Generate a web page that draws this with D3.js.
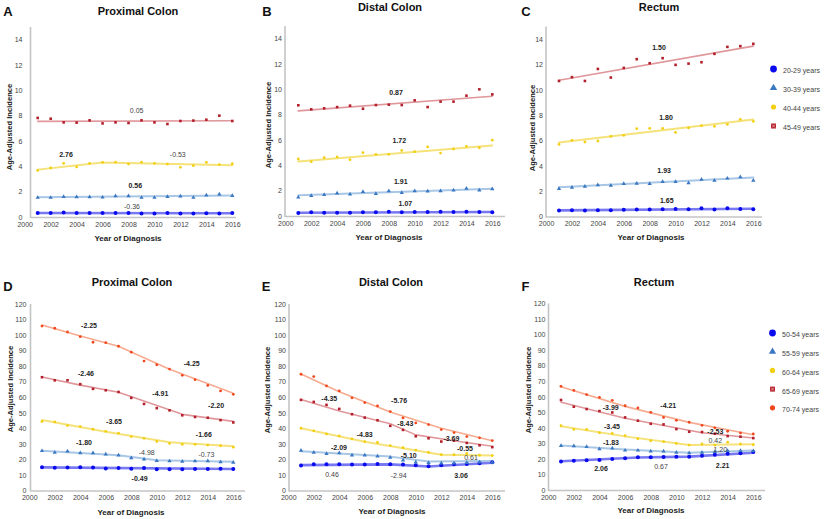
<!DOCTYPE html>
<html><head><meta charset="utf-8">
<script src="https://cdn.jsdelivr.net/npm/d3@7"></script>
<style>body{margin:0;background:#fff}svg{display:block;font-family:"Liberation Sans",Arial,sans-serif}</style>
</head><body><svg id="chart" width="825" height="519"></svg>
<script>
// ---------------- DATA ----------------
const years = [2001,2002,2003,2004,2005,2006,2007,2008,2009,2010,2011,2012,2013,2014,2015,2016];
const xTicks = [2000,2002,2004,2006,2008,2010,2012,2014,2016];
const yTicksTop = [0,2,4,6,8,10,12,14];
const yTicksBottom = [0,10,20,30,40,50,60,70,80,90,100,110,120];
const sitesTitles = ["Proximal Colon","Distal Colon","Rectum"];
const panelLetters = ["A","B","C","D","E","F"];
const groupsYoung = ["20-29 years","30-39 years","40-44 years","45-49 years"];
const groupsOld = ["50-54 years","55-59 years","60-64 years","65-69 years","70-74 years"];

// A: Proximal colon, ages 20-49
const A_2029 = [0.31,0.31,0.35,0.31,0.31,0.31,0.31,0.31,0.28,0.28,0.31,0.28,0.28,0.30,0.28,0.32];
const A_3039 = [1.53,1.53,1.60,1.58,1.58,1.55,1.66,1.66,1.53,1.53,1.60,1.63,1.53,1.71,1.79,1.68];
const A_4044 = [3.68,3.87,4.24,3.95,4.24,4.32,4.34,4.18,4.34,4.24,4.18,3.92,4.05,4.32,4.13,4.21];
const A_4549 = [7.82,7.76,7.47,7.45,7.63,7.39,7.47,7.42,7.63,7.47,7.34,7.58,7.61,7.68,8.00,7.58];
// B: Distal colon
const B_2029 = [0.24,0.29,0.26,0.26,0.26,0.29,0.29,0.34,0.29,0.31,0.31,0.34,0.31,0.34,0.31,0.29];
const B_3039 = [1.47,1.60,1.68,1.79,1.71,1.92,1.76,1.97,1.84,1.97,1.95,1.97,2.03,2.18,2.03,2.13];
const B_4044 = [4.50,4.29,4.60,4.66,4.45,5.00,4.87,4.87,5.18,5.08,5.45,4.97,5.29,5.50,5.39,5.99];
const B_4549 = [8.74,8.42,8.50,8.60,8.71,8.47,8.76,8.79,8.76,9.13,8.60,9.03,9.03,9.50,10.00,9.60];
// C: Rectum
const C_2029 = [0.47,0.50,0.47,0.50,0.50,0.53,0.55,0.55,0.58,0.60,0.58,0.66,0.55,0.66,0.60,0.58];
const C_3039 = [2.19,2.29,2.37,2.48,2.45,2.58,2.61,2.58,2.74,2.74,2.64,2.93,2.85,3.01,3.11,2.85];
const C_4044 = [5.69,6.01,5.88,5.96,6.33,6.41,6.93,6.96,6.96,6.64,6.99,7.17,7.12,7.28,7.67,7.51];
const C_4549 = [10.70,11.00,10.70,11.65,10.97,11.73,12.42,12.10,12.50,11.97,12.07,12.18,12.84,13.39,13.45,13.63];
// D: Proximal colon, ages 50-74
const D_5054 = [14.9,14.6,14.8,15.0,14.8,14.1,14.5,14.0,14.5,13.6,13.6,13.6,13.8,13.8,14.0,13.8];
const D_5559 = [25.5,24.4,25.3,24.1,24.1,23.3,22.7,20.9,20.1,19.2,18.9,18.7,18.9,19.0,18.3,18.0];
const D_6064 = [44.4,44.1,41.8,41.1,39.4,38.1,36.9,34.7,33.6,31.6,30.3,29.7,29.7,29.2,28.8,27.9];
const D_6569 = [72.9,70.9,70.9,68.4,65.4,64.5,63.4,59.6,55.7,53.0,51.6,48.4,47.3,46.8,45.3,43.8];
const D_7074 = [105.8,104.4,102.0,99.0,95.4,95.1,92.8,89.0,83.3,80.9,78.1,74.1,71.3,67.6,64.1,61.9];
// E: Distal colon
const E_5054 = [16.1,16.9,16.9,16.9,16.7,16.7,17.1,16.9,16.7,16.3,15.6,16.3,16.9,17.1,17.6,18.2];
const E_5559 = [25.7,24.4,23.6,24.2,22.7,22.7,22.1,21.2,19.5,18.2,17.8,17.5,17.6,17.8,18.2,18.0];
const E_6064 = [40.1,38.4,36.4,35.1,33.2,31.5,30.9,28.9,27.5,26.0,24.5,23.0,23.0,23.8,22.7,22.5];
const E_6569 = [58.3,57.0,55.1,52.5,49.1,46.9,45.2,41.6,39.0,34.9,33.6,31.5,32.1,30.6,29.1,27.9];
const E_7074 = [74.8,73.3,67.3,64.1,59.6,56.6,54.4,50.8,46.7,43.5,42.4,39.2,37.3,34.7,33.9,32.1];
// F: Rectum
const F_5054 = [18.4,18.8,19.1,19.3,19.9,20.4,21.0,21.0,21.2,21.4,21.4,22.1,22.7,23.4,23.6,24.4];
const F_5559 = [28.5,28.3,27.9,26.4,26.8,25.5,25.5,24.9,24.9,24.2,23.8,24.2,24.6,25.3,25.3,25.1];
const F_6064 = [41.4,39.0,39.0,36.9,36.4,34.9,33.0,31.7,31.1,30.0,28.9,29.6,28.9,30.8,29.6,29.1];
const F_6569 = [57.9,53.6,52.1,50.8,49.9,46.7,44.6,42.6,42.2,39.2,37.5,37.3,36.2,34.7,34.3,33.4];
const F_7074 = [66.7,64.1,61.4,59.6,57.7,54.2,52.8,50.0,46.7,44.8,43.6,41.6,40.0,37.8,36.7,36.1];

// Joinpoint fitted trends: [year, fitted value]
const A_fit = [
  [[2001,0.32],[2016,0.30]],
  [[2001,1.55],[2016,1.70]],
  [[2001,3.74],[2006,4.30],[2016,4.08]],
  [[2001,7.55],[2016,7.60]]];
const B_fit = [
  [[2001,0.26],[2016,0.31]],
  [[2001,1.63],[2016,2.16]],
  [[2001,4.30],[2016,5.57]],
  [[2001,8.30],[2016,9.46]]];
const C_fit = [
  [[2001,0.48],[2016,0.61]],
  [[2001,2.30],[2016,3.07]],
  [[2001,5.85],[2016,7.65]],
  [[2001,10.75],[2016,13.45]]];
const D_fit = [
  [[2001,14.9],[2016,13.8]],
  [[2001,25.5],[2007,22.7],[2010,19.4],[2016,18.5]],
  [[2001,45.3],[2006,37.8],[2011,31.0],[2016,28.4]],
  [[2001,73.0],[2004,67.8],[2007,63.2],[2012,49.0],[2016,44.5]],
  [[2001,106.5],[2004,99.4],[2007,92.8],[2011,78.0],[2016,62.5]]];
const E_fit = [
  [[2001,16.3],[2008,16.8],[2011,15.4],[2016,17.9]],
  [[2001,25.3],[2008,21.8],[2011,18.6],[2016,19.0]],
  [[2001,40.0],[2006,31.4],[2012,23.0],[2016,22.5]],
  [[2001,58.5],[2004,51.2],[2008,43.0],[2010,35.8],[2013,32.0],[2016,28.5]],
  [[2001,75.0],[2004,63.5],[2008,50.5],[2012,40.0],[2016,32.0]]];
const F_fit = [
  [[2001,18.5],[2007,20.9],[2011,21.5],[2016,24.0]],
  [[2001,28.7],[2006,26.1],[2011,23.9],[2016,25.4]],
  [[2001,41.0],[2006,34.5],[2011,28.9],[2016,29.5]],
  [[2001,56.5],[2006,46.2],[2012,36.8],[2016,33.5]],
  [[2001,66.5],[2006,53.8],[2011,43.5],[2016,35.5]]];

// Annual percent change labels: [text, year, value, significant]
const A_apc = [["0.05",2008.63,8.37,false],["2.76",2003.18,4.95,true],["-0.53",2011.8,4.95,false],["0.56",2008.52,2.50,true],["-0.36",2008.27,0.81,false]];
const B_apc = [["0.87",2008.56,9.76,true],["1.72",2008.81,5.92,true],["1.91",2008.92,2.71,true],["1.07",2009.28,1.00,true]];
const C_apc = [["1.50",2008.72,13.32,true],["1.80",2009.26,7.80,true],["1.93",2009.12,3.59,true],["1.65",2009.32,1.28,true]];
const D_apc = [["-2.25",2004.69,105.9,true],["-2.46",2004.45,75.2,true],["-3.65",2006.65,44.3,true],["-1.80",2004.29,30.8,true],
  ["-4.25",2012.74,81.9,true],["-4.91",2010.28,62.5,true],["-2.20",2014.65,54.4,true],["-1.66",2013.69,35.9,true],
  ["-4.98",2009.21,24.6,false],["-0.73",2013.89,23.0,false],["-0.49",2008.65,7.85,true]];
const E_apc = [["-4.35",2003.22,59.1,true],["-5.76",2008.69,57.6,true],["-8.43",2009.18,42.8,true],["-4.83",2006.0,35.9,true],
  ["-3.69",2012.79,33.6,true],["-2.09",2003.98,27.8,true],["-0.55",2013.86,26.7,true],["-5.10",2009.45,22.7,true],
  ["0.61",2014.33,21.1,false],["0.46",2003.43,10.0,false],["-2.94",2008.66,9.8,false],["3.06",2013.55,9.8,true]];
const F_apc = [["-3.99",2004.88,53.1,true],["-4.21",2009.37,54.4,true],["-3.45",2004.98,40.9,true],["-2.53",2013.04,37.7,true],
  ["0.42",2013.04,31.9,false],["-1.83",2004.9,30.8,true],["1.20",2013.43,26.1,false],["0.67",2008.8,14.8,false],
  ["2.21",2013.61,16.0,true],["2.06",2004.12,13.7,true]];

// ---------------- STYLE / LAYOUT ----------------
const markerColors = ["#0a0aee","#3b78c2","#f2cf12","#b3202c","#f0471c"];
const lineColors   = ["#7878f2","#a8c6e6","#f5e27a","#e0979b","#f7ab90"];
const lineWidths   = [2.6,2,2,1.6,1.6];

const layouts = [
  {x1:37.7, x16:232.3, ax:30.5, xe:236, y0:217, yt:27,  yMax:15,  tickGap:8, letter:[8,11], title:[138,11],  xl:[128,238], yl:[9,127]},
  {x1:298.3,x16:492.3, ax:285,  xe:505, y0:216, yt:26,  yMax:15,  tickGap:3, letter:[267,11], title:[390,7.5], xl:[389,237], yl:[268,125]},
  {x1:559,  x16:753.3, ax:546,  xe:762, y0:216.5,yt:26.5,yMax:15, tickGap:3, letter:[526,11.5], title:[659,7.5], xl:[651,237], yl:[532,128]},
  {x1:42,   x16:233.3, ax:30.5, xe:245, y0:490.5,yt:304, yMax:120, tickGap:4, letter:[8,286], title:[132,282.5], xl:[131,512], yl:[10,389]},
  {x1:301,  x16:492.3, ax:289,  xe:505, y0:490.5,yt:304, yMax:120, tickGap:3, letter:[266,286], title:[391,282.5], xl:[392,511], yl:[267,390]},
  {x1:561,  x16:753.3, ax:548.5,xe:765, y0:490, yt:303.5,yMax:120, tickGap:3, letter:[525.5,286], title:[654,282.5], xl:[651,510], yl:[528,390]}
];

const panels = [
  {obs:[A_2029,A_3039,A_4044,A_4549], fit:A_fit, apc:A_apc, ticks:yTicksTop, title:sitesTitles[0]},
  {obs:[B_2029,B_3039,B_4044,B_4549], fit:B_fit, apc:B_apc, ticks:yTicksTop, title:sitesTitles[1]},
  {obs:[C_2029,C_3039,C_4044,C_4549], fit:C_fit, apc:C_apc, ticks:yTicksTop, title:sitesTitles[2]},
  {obs:[D_5054,D_5559,D_6064,D_6569,D_7074], fit:D_fit, apc:D_apc, ticks:yTicksBottom, title:sitesTitles[0]},
  {obs:[E_5054,E_5559,E_6064,E_6569,E_7074], fit:E_fit, apc:E_apc, ticks:yTicksBottom, title:sitesTitles[1]},
  {obs:[F_5054,F_5559,F_6064,F_6569,F_7074], fit:F_fit, apc:F_apc, ticks:yTicksBottom, title:sitesTitles[2]}
];

const svg = d3.select("#chart");
const axisColor = "#c4c4c4";

function drawMarker(g, idx, cx, cy, big) {
  const k = big ? 1.7 : 1;
  const c = markerColors[idx];
  if (idx === 0) {
    g.append("circle").attr("cx",cx).attr("cy",cy).attr("r",2.0*k).attr("fill",c);
  } else if (idx === 1) {
    g.append("path").attr("transform",`translate(${cx},${cy})`)
      .attr("d", d3.symbol(d3.symbolTriangle, 8*k*k)()).attr("fill",c);
  } else if (idx === 3) {
    const s = (big ? 5 : 2.6);
    g.append("rect").attr("x",cx-s/2).attr("y",cy-s/2).attr("width",s).attr("height",s).attr("fill",c);
    if (big) {
      g.append("path").attr("d",`M${cx-s/2+1},${cy-s/2+1}L${cx+s/2-1},${cy+s/2-1}M${cx+s/2-1},${cy-s/2+1}L${cx-s/2+1},${cy+s/2-1}`)
        .attr("stroke","#f3b0b0").attr("stroke-width",0.8);
    }
  } else {
    g.append("circle").attr("cx",cx).attr("cy",cy).attr("r",(big ? 2.6 : 1.4)).attr("fill",c);
  }
}

panels.forEach((p, i) => {
  const L = layouts[i];
  const g = svg.append("g");
  const x = d3.scaleLinear().domain([2001,2016]).range([L.x1, L.x16]);
  const y = d3.scaleLinear().domain([0, L.yMax]).range([L.y0, L.yt]);

  // axes
  const yAxis = d3.axisLeft(y).tickValues(p.ticks).tickSize(0).tickPadding(L.tickGap);
  const ya = g.append("g").attr("transform",`translate(${L.ax},0)`).call(yAxis);
  ya.select(".domain").remove();
  ya.selectAll("text").attr("font-size",7).attr("fill","#444").attr("font-family","Liberation Sans, Arial, sans-serif");
  const xAxis = d3.axisBottom(x).tickValues(xTicks).tickSize(0).tickPadding(5).tickFormat(d3.format("d"));
  const xa = g.append("g").attr("transform",`translate(0,${L.y0})`).call(xAxis);
  xa.select(".domain").remove();
  xa.selectAll("text").attr("font-size",7).attr("fill","#444").attr("font-family","Liberation Sans, Arial, sans-serif");
  g.append("line").attr("x1",L.ax).attr("x2",L.ax).attr("y1",L.yt).attr("y2",L.y0+1)
    .attr("stroke",axisColor).attr("stroke-width",1.6);
  g.append("line").attr("x1",L.ax).attr("x2",L.xe).attr("y1",L.y0+0.5).attr("y2",L.y0+0.5)
    .attr("stroke",axisColor).attr("stroke-width",1.6);

  // fitted lines
  const line = d3.line().x(d => x(d[0])).y(d => y(d[1]));
  p.fit.forEach((f, s) => {
    g.append("path").attr("d", line(f)).attr("fill","none")
      .attr("stroke", lineColors[s]).attr("stroke-width", lineWidths[s])
      .attr("stroke-linejoin","round").attr("stroke-linecap","round");
  });
  // observed points
  p.obs.forEach((vals, s) => {
    vals.forEach((v, j) => drawMarker(g, s, x(years[j]), y(v), false));
  });
  // APC labels
  p.apc.forEach(a => {
    g.append("text").attr("x", x(a[1])).attr("y", y(a[2])).attr("dy","0.35em")
      .attr("text-anchor","middle").attr("font-size",7)
      .attr("font-weight", a[3] ? "bold" : "normal")
      .attr("fill", a[3] ? "#222" : "#444").text(a[0]);
  });

  // titles & labels
  g.append("text").attr("x",L.letter[0]).attr("y",L.letter[1]).attr("dy","0.35em")
    .attr("text-anchor","middle").attr("font-size",13).attr("font-weight","bold").attr("fill","#111")
    .text(panelLetters[i]);
  g.append("text").attr("x",L.title[0]).attr("y",L.title[1]).attr("dy","0.35em")
    .attr("text-anchor","middle").attr("font-size",11).attr("font-weight","bold").attr("fill","#111")
    .text(p.title);
  g.append("text").attr("x",L.xl[0]).attr("y",L.xl[1]).attr("dy","0.35em")
    .attr("text-anchor","middle").attr("font-size",8).attr("font-weight","bold").attr("fill","#222")
    .text("Year of Diagnosis");
  g.append("text").attr("transform",`translate(${L.yl[0]},${L.yl[1]}) rotate(-90)`).attr("dy","0.35em")
    .attr("text-anchor","middle").attr("font-size",7.6).attr("font-weight","bold").attr("fill","#222")
    .text("Age-Adjusted Incidence");
});

// legends
function legend(names, mx, tx, yStart, step) {
  const g = svg.append("g");
  names.forEach((n, s) => {
    const yy = yStart + s*step;
    drawMarker(g, s, mx, yy - 2, true);
    g.append("text").attr("x",tx).attr("y",yy).attr("dy","0.35em").attr("font-size",7)
      .attr("fill","#444").text(n);
  });
}
legend(groupsYoung, 773.5, 783, 71, 19);
legend(groupsOld, 772.5, 782, 335, 18.7);
</script></body></html>
